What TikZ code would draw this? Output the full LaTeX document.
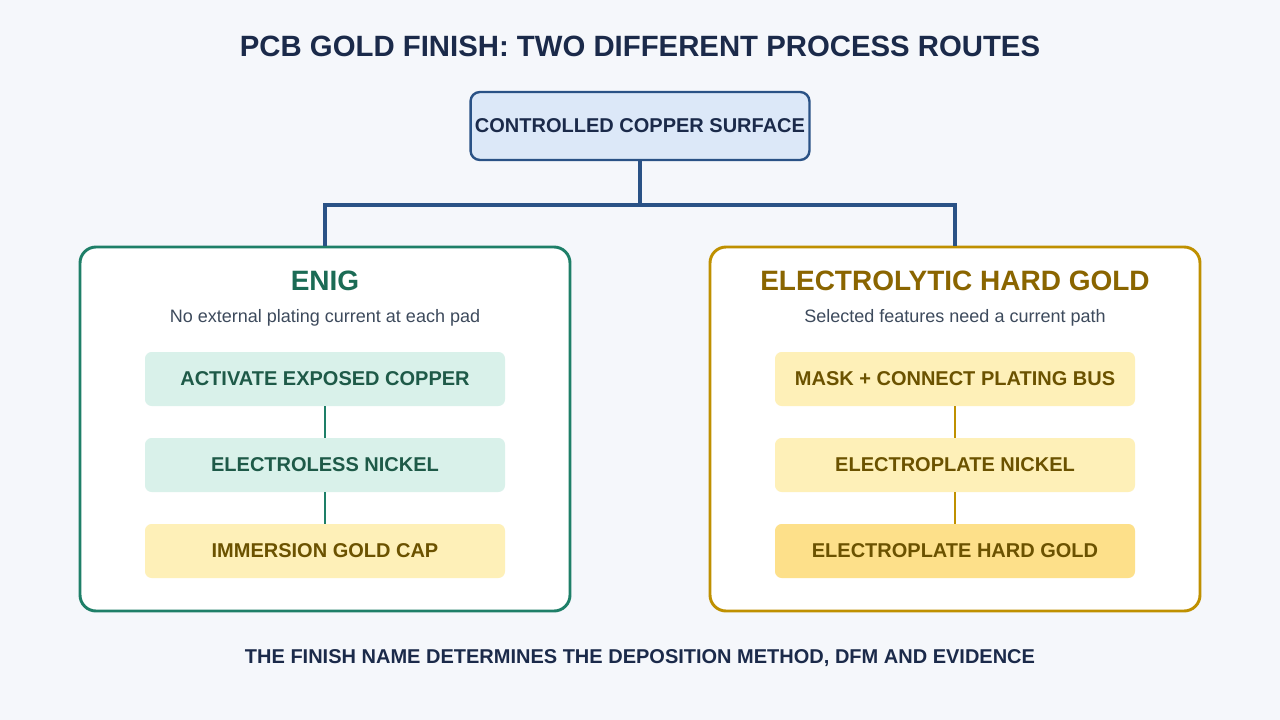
\documentclass[tikz,border=0pt]{standalone}
\usepackage{fontspec}
\setmainfont{Liberation Sans}
\begin{document}
\begin{tikzpicture}[x=0.75pt,y=-0.75pt,
  stepbox/.style={rounded corners=5pt,minimum width=270pt,minimum height=40.5pt,inner sep=0pt,font=\fontsize{15}{18}\selectfont\bfseries},
  greenbox/.style={stepbox,fill=mint,text=gtxt},
  goldbox/.style={stepbox,fill=lyel,text=ytxt},
  panel/.style={draw,line width=2.2pt,fill=white,rounded corners=12pt,minimum width=367.5pt,minimum height=273pt,inner sep=0pt}]
\definecolor{bg}{HTML}{F5F7FB}
\definecolor{navy}{HTML}{1B2A4A}
\definecolor{blu}{HTML}{2A5286}
\definecolor{lblu}{HTML}{DCE8F8}
\definecolor{grn}{HTML}{1E7F68}
\definecolor{gtit}{HTML}{1B6B55}
\definecolor{gtxt}{HTML}{1E5A48}
\definecolor{mint}{HTML}{D9F1EA}
\definecolor{gold}{HTML}{BF9000}
\definecolor{ytit}{HTML}{8A6500}
\definecolor{ytxt}{HTML}{6B5200}
\definecolor{lyel}{HTML}{FEF0B8}
\definecolor{dyel}{HTML}{FDE08A}
\definecolor{sub}{HTML}{3D4A5C}
\fill[bg] (0,0) rectangle (1280,720);
\node[font=\fontsize{22}{26}\selectfont\bfseries,text=navy] (title) at (640,46) {PCB GOLD FINISH: TWO DIFFERENT PROCESS ROUTES};
\node[draw=blu,line width=1.8pt,fill=lblu,rounded corners=7pt,minimum width=225pt,minimum height=51pt,font=\fontsize{15}{18}\selectfont\bfseries,text=navy] (top) at (640,126) {CONTROLLED COPPER SURFACE};
\node[panel,draw=grn] (L) at (325,429) {};
\node[panel,draw=gold] (R) at (955,429) {};
\coordinate (j) at (640,205);
\draw[blu,line width=3pt] (top.south) -- (j) -| (L.north);
\draw[blu,line width=3pt] (j) -| (R.north);
\node[font=\fontsize{21}{24}\selectfont\bfseries,text=gtit] (lt) at (325,281) {ENIG};
\node[font=\fontsize{13.5}{16}\selectfont,text=sub] (ls) at (325,318) {No external plating current at each pad};
\node[font=\fontsize{21}{24}\selectfont\bfseries,text=ytit] (rt) at (955,281) {ELECTROLYTIC HARD GOLD};
\node[font=\fontsize{13.5}{16}\selectfont,text=sub] (rs) at (955,318) {Selected features need a current path};
\node[greenbox] (l1) at (325,379) {ACTIVATE EXPOSED COPPER};
\node[greenbox] (l2) at (325,465) {ELECTROLESS NICKEL};
\node[goldbox] (l3) at (325,551) {IMMERSION GOLD CAP};
\draw[grn,line width=2.2pt] (l1) -- (l2) (l2) -- (l3);
\node[goldbox] (r1) at (955,379) {MASK + CONNECT PLATING BUS};
\node[goldbox] (r2) at (955,465) {ELECTROPLATE NICKEL};
\node[stepbox,fill=dyel,text=ytxt] (r3) at (955,551) {ELECTROPLATE HARD GOLD};
\draw[gold,line width=2.2pt] (r1) -- (r2) (r2) -- (r3);
\node[font=\fontsize{15}{18}\selectfont\bfseries,text=navy] (bot) at (640,658) {THE FINISH NAME DETERMINES THE DEPOSITION METHOD, DFM AND EVIDENCE};
\end{tikzpicture}
\end{document}
